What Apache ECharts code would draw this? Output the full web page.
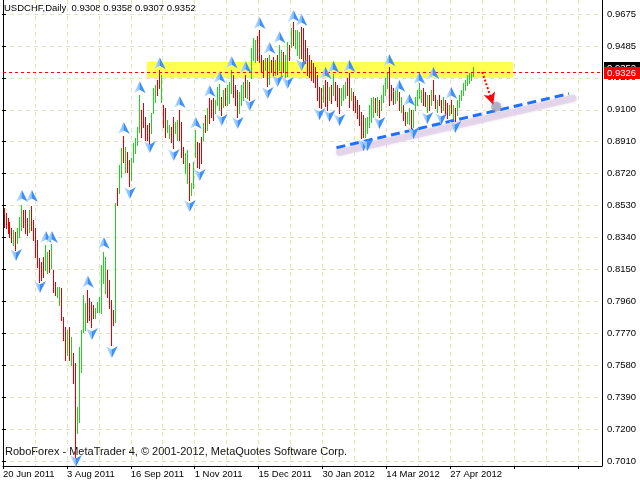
<!DOCTYPE html>
<html><head><meta charset="utf-8">
<script src="https://cdn.jsdelivr.net/npm/echarts@6/dist/echarts.min.js"></script>
<style>html,body{margin:0;padding:0;background:#fff}#c{width:640px;height:480px}</style>
</head><body><div id="c"></div>
<script>
// ---------------- data ----------------
const dateLabels = ['20 Jun 2011','3 Aug 2011','16 Sep 2011','1 Nov 2011','15 Dec 2011','30 Jan 2012','14 Mar 2012','27 Apr 2012'];
const priceLabels = ['0.7010','0.7200','0.7390','0.7580','0.7770','0.7960','0.8150','0.8340','0.8530','0.8720','0.8910','0.9100','0.9290','0.9485','0.9675'];
const firstTickPrice = 0.7010, lastTickPrice = 0.9675;

const barHigh = [
0.8518,0.8488,0.8459,0.8435,0.8399,0.8387,0.8375,0.8399,0.8465,0.8536,
0.8506,0.8506,0.8459,0.8506,0.8530,0.8447,0.8399,0.8328,0.8220,0.8196,
0.8226,0.8298,0.8256,0.8268,0.8304,0.8149,0.8078,0.8047,0.8047,0.8041,
0.7869,0.7809,0.7791,0.7809,0.7750,0.7654,0.7595,0.7332,0.7690,0.7791,
0.8000,0.7952,0.8030,0.7982,0.7958,0.7940,0.7922,0.7958,0.7988,0.8179,
0.8256,0.8226,0.8149,0.8090,0.7970,0.7910,0.8548,0.8638,0.8775,0.8876,
0.8947,0.8882,0.8852,0.8804,0.8816,0.8906,0.8935,0.9001,0.9192,0.9102,
0.9144,0.9061,0.9013,0.9025,0.9085,0.9234,0.9251,0.9281,0.9341,0.9311,
0.9132,0.9114,0.9043,0.9013,0.9001,0.9061,0.9031,0.9043,0.9102,0.9031,
0.8882,0.8846,0.8864,0.8787,0.8667,0.8792,0.8983,0.8912,0.8906,0.8941,
0.9025,0.9073,0.9114,0.9174,0.9162,0.9174,0.9162,0.9239,0.9257,0.9180,
0.9222,0.9234,0.9251,0.9269,0.9341,0.9311,0.9251,0.9222,0.9210,0.9251,
0.9269,0.9311,0.9281,0.9269,0.9472,0.9532,0.9520,0.9543,0.9579,0.9430,
0.9400,0.9412,0.9412,0.9430,0.9400,0.9418,0.9400,0.9430,0.9490,0.9460,
0.9448,0.9430,0.9508,0.9490,0.9591,0.9627,0.9579,0.9579,0.9567,0.9597,
0.9591,0.9520,0.9472,0.9430,0.9400,0.9382,0.9359,0.9311,0.9239,0.9234,
0.9251,0.9281,0.9269,0.9239,0.9251,0.9317,0.9269,0.9251,0.9234,0.9234,
0.9251,0.9269,0.9293,0.9323,0.9234,0.9210,0.9186,0.9162,0.9132,0.9091,
0.9073,0.9055,0.9061,0.9132,0.9174,0.9180,0.9174,0.9180,0.9162,0.9192,
0.9251,0.9293,0.9329,0.9359,0.9251,0.9234,0.9222,0.9234,0.9210,0.9180,
0.9132,0.9091,0.9091,0.9114,0.9102,0.9102,0.9180,0.9222,0.9263,0.9222,
0.9234,0.9210,0.9192,0.9192,0.9222,0.9281,0.9192,0.9162,0.9192,0.9162,
0.9180,0.9162,0.9144,0.9132,0.9162,0.9132,0.9114,0.9162,0.9192,0.9222,
0.9263,0.9281,0.9311,0.9323,0.9329,0.9358];

const barLow = [
0.8405,0.8399,0.8369,0.8345,0.8316,0.8298,0.8268,0.8310,0.8345,0.8387,
0.8405,0.8369,0.8357,0.8375,0.8387,0.8328,0.8226,0.8167,0.8078,0.8090,
0.8107,0.8149,0.8131,0.8137,0.8161,0.8018,0.8000,0.7988,0.7940,0.7851,
0.7732,0.7612,0.7642,0.7612,0.7583,0.7475,0.7028,0.7177,0.7243,0.7541,
0.7779,0.7791,0.7839,0.7851,0.7809,0.7863,0.7863,0.7898,0.7898,0.7893,
0.8071,0.8012,0.7988,0.7922,0.7702,0.7821,0.7839,0.8536,0.8608,0.8703,
0.8792,0.8733,0.8733,0.8649,0.8685,0.8792,0.8846,0.8894,0.8971,0.8941,
0.9001,0.8924,0.8924,0.8894,0.8965,0.9085,0.9150,0.9192,0.9234,0.9150,
0.9001,0.8941,0.8971,0.8935,0.8912,0.8876,0.8965,0.8924,0.8924,0.8822,
0.8787,0.8727,0.8667,0.8566,0.8596,0.8638,0.8822,0.8763,0.8757,0.8787,
0.8924,0.8971,0.8983,0.9025,0.9061,0.9043,0.9085,0.9132,0.9102,0.9073,
0.9120,0.9132,0.9132,0.9144,0.9204,0.9180,0.9132,0.9061,0.9085,0.9132,
0.9162,0.9180,0.9174,0.9162,0.9293,0.9400,0.9388,0.9400,0.9388,0.9329,
0.9299,0.9341,0.9245,0.9257,0.9329,0.9299,0.9311,0.9317,0.9341,0.9311,
0.9329,0.9299,0.9305,0.9400,0.9478,0.9490,0.9472,0.9430,0.9412,0.9412,
0.9371,0.9382,0.9311,0.9299,0.9281,0.9269,0.9239,0.9162,0.9120,0.9114,
0.9150,0.9126,0.9102,0.9162,0.9144,0.9192,0.9162,0.9126,0.9085,0.9132,
0.9162,0.9174,0.9192,0.9120,0.9162,0.9102,0.9091,0.9055,0.9013,0.8935,
0.8941,0.8941,0.8965,0.9001,0.9031,0.9061,0.9091,0.9073,0.9061,0.9102,
0.9150,0.9192,0.9234,0.9132,0.9162,0.9138,0.9144,0.9162,0.9102,0.9091,
0.9043,0.9013,0.9025,0.9019,0.8995,0.9001,0.9102,0.9132,0.9174,0.9150,
0.9132,0.9126,0.9091,0.9102,0.9132,0.9162,0.9114,0.9091,0.9132,0.9091,
0.9102,0.9073,0.9055,0.9073,0.9085,0.9055,0.9037,0.9073,0.9120,0.9162,
0.9192,0.9222,0.9251,0.9263,0.9281,0.9307];

// 1 = bull bar (close above open), 0 = bear bar
const barUp = [
0,0,0,0,0,1,0,1,1,1, 0,0,0,1,0,0,0,0,0,0, 0,1,1,0,1,0,0,1,1,0, 0,0,1,0,1,0,0,1,1,1,
1,1,0,0,0,0,1,1,1,1, 1,1,0,0,0,0,1,0,1,1, 0,1,0,0,1,1,1,1,1,0, 0,0,0,0,1,1,1,0,0,1,
0,0,1,1,0,0,1,1,0,0, 0,1,1,0,1,1,1,0,0,0, 1,0,1,0,0,0,1,1,1,0, 1,0,1,1,1,0,0,0,1,1,
1,0,1,0,1,1,1,0,0,0, 0,1,0,1,0,0,1,0,1,1, 0,1,1,0,1,0,1,1,1,0, 0,0,0,0,0,0,0,0,0,0,
1,0,0,1,0,1,0,0,0,1, 1,1,0,0,1,0,0,0,0,0, 0,1,1,1,1,1,0,1,0,1, 1,1,1,0,0,0,1,1,0,1,
0,0,1,1,0,1,1,1,1,1, 0,0,1,0,1,0,0,1,0,0, 1,0,0,1,0,1,0,1,1,1, 1,1,1,1,1,1];

// Fractal markers (bar index, price where the arrow sits)
const fractalUpIdx   = [9,14,21,24,42,50,60,68,78,88,96,103,108,114,121,128,133,138,145,149,161,165,173,193,198,203,208,215,224];
const fractalUpPrice = [0.8590,0.8590,0.8345,0.8345,0.8078,0.8310,0.8995,0.9239,0.9382,0.9150,0.9025,0.9216,0.9299,0.9388,0.9359,0.9621,0.9472,0.9537,0.9663,0.9639,0.9323,0.9359,0.9365,0.9400,0.9245,0.9162,0.9293,0.9323,0.9204];
const fractalDnIdx   = [6,18,36,44,54,63,73,85,93,98,109,117,123,132,137,142,149,158,163,168,180,182,188,205,212,219,226];
const fractalDnPrice = [0.8238,0.8047,0.7010,0.7767,0.7660,0.8608,0.8882,0.8834,0.8530,0.8715,0.9043,0.9025,0.9132,0.9204,0.9275,0.9263,0.9371,0.9079,0.9067,0.9043,0.8894,0.8894,0.9025,0.8965,0.9055,0.9049,0.9001];

// drawn objects
const bandIdx = [71.5, 255];
const bandPrice = [0.9389, 0.9293];
const hLinePrice = 0.9326;
const bidPrice = 0.9352;
const trendIdx = [166.5, 283];
const trendPrice = [0.8878, 0.9200];
const trendGlowIdx = [168, 285];
const trendGlowPrice = [0.8850, 0.9172];
const arrowIdx = [239.5, 245];
const arrowPrice = [0.9329, 0.9135];
const dotIdx = 246.5, dotPrice = 0.9122;
const titleText = 'USDCHF,Daily  0.9308 0.9358 0.9307 0.9352';
const footerText = 'RoboForex - MetaTrader 4, \u00a9 2001-2012, MetaQuotes Software Corp.';

// ---------------- layout ----------------
const Hh = 480;
const G = {left: 2, right: 38, top: 0, bottom: 14};
const tickTopPx = 14, tickBottomPx = 461;       // rows of the outer price labels
const pxPerPrice = (tickBottomPx - tickTopPx) / (lastTickPrice - firstTickPrice);
const yMax = lastTickPrice + (tickTopPx - G.top) / pxPerPrice;
const yMin = firstTickPrice - ((Hh - G.bottom) - tickBottomPx) / pxPerPrice;
const xMin = -0.5, xMax = 299.5;
const FONT = 'Liberation Sans, Arial, sans-serif';
const gridColor = '#e2e2c4';
const UP_COLOR = '#1ed21e', DOWN_COLOR = '#e40000';

const bars = barHigh.map((h, i) => [i, h, barLow[i], barUp[i]]);
const upArrow = 'path://M6,0 L12,12 L6,8.5 L0,12 Z';
const dnArrow = 'path://M0,0 L6,3.5 L12,0 L6,12 Z';
const arrowFill = {type:'linear', x:0, y:0, x2:1, y2:0, colorStops:[
  {offset:0, color:'#d6ebff'},{offset:0.5, color:'#7dbaff'},{offset:0.5, color:'#3a8cf7'},{offset:1, color:'#4a98ff'}]};

const chart = echarts.init(document.getElementById('c'), null, {renderer:'canvas'});
chart.setOption({
  animation: false,
  backgroundColor: '#ffffff',
  textStyle: {fontFamily: FONT},
  grid: [
    {left: G.left, right: G.right, top: G.top, bottom: G.bottom, show: false},
    {left: G.left, right: G.right, top: tickTopPx, bottom: Hh - tickBottomPx, show: false}
  ],
  xAxis: [
    {gridIndex: 0, type: 'value', min: xMin, max: xMax, interval: 32, position: 'bottom',
     axisLine: {show: true, lineStyle: {color: '#000', width: 1}},
     axisTick: {show: true, length: 3, lineStyle: {color: '#000'}},
     splitLine: {show: false},
     axisLabel: {show: true, showMinLabel: true, showMaxLabel: false, align: 'left', margin: 3,
       fontSize: 9.5, color: '#000', fontFamily: FONT,
       formatter: v => { const k = Math.round((v - xMin) / 32); return (k >= 0 && k < dateLabels.length) ? dateLabels[k] : ''; }}},
    {gridIndex: 0, type: 'value', min: xMin, max: xMax, interval: 16, position: 'bottom',
     axisLine: {show: false}, axisTick: {show: false}, axisLabel: {show: false},
     splitLine: {show: true, lineStyle: {color: gridColor, type: [4, 4], width: 1}}},
    {gridIndex: 1, type: 'value', min: 0, max: 1, show: false}
  ],
  yAxis: [
    {gridIndex: 0, type: 'value', min: yMin, max: yMax, position: 'right',
     axisLine: {show: true, onZero: false, lineStyle: {color: '#000'}},
     axisTick: {show: false}, axisLabel: {show: false}, splitLine: {show: false}},
    {gridIndex: 1, type: 'value', min: 0, max: priceLabels.length - 1, interval: 1, position: 'right',
     axisLine: {show: false},
     axisTick: {show: true, length: 4, lineStyle: {color: '#000'}},
     axisLabel: {show: true, margin: 5, fontSize: 9.5, color: '#000', fontFamily: FONT,
       formatter: v => priceLabels[Math.round(v)] || ''},
     splitLine: {show: true, lineStyle: {color: gridColor, type: [4, 4], width: 1}}},
    {gridIndex: 0, type: 'value', min: yMin, max: yMax, position: 'left',
     axisLine: {show: true, onZero: false, lineStyle: {color: '#000'}},
     axisTick: {show: false}, axisLabel: {show: false}, splitLine: {show: false}}
  ],
  graphic: [
    {type: 'text', left: 4, top: 3, z: 0, style: {text: titleText, fill: '#000', font: '9.5px ' + FONT}},
    {type: 'text', left: 5, top: 446, z: 0, style: {text: footerText, fill: '#111', font: '11px ' + FONT}}
  ],
  series: [
    // yellow zone
    {type: 'line', xAxisIndex: 0, yAxisIndex: 0, data: [], z: 1, silent: true,
     markArea: {silent: true, itemStyle: {color: '#ffff4f'},
       data: [[{coord: [bandIdx[0], bandPrice[0]]}, {coord: [bandIdx[1], bandPrice[1]]}]]}},
    // horizontal level
    {type: 'line', xAxisIndex: 0, yAxisIndex: 0, z: 6, silent: true, symbol: 'none',
     data: [[xMin, hLinePrice], [xMax, hLinePrice]],
     lineStyle: {width: 1, color: '#ff0000', type: [3, 3]}},
    // price tags on the right scale (bid first, line level on top)
    {type: 'custom', xAxisIndex: 0, yAxisIndex: 0, z: 9, silent: true, clip: false,
     data: [[bidPrice, 0], [hLinePrice, 1]],
     renderItem: (params, api) => {
       const price = api.value(0);
       const y = Math.round(api.coord([xMax, price])[1]);
       const x = params.coordSys.x + params.coordSys.width + 2;
       const col = api.value(1) ? '#ff0000' : '#000000';
       return {type: 'group', children: [
         {type: 'rect', shape: {x: x, y: y - 6, width: 40, height: 12}, style: {fill: col}},
         {type: 'text', x: x + 3, y: y, style: {text: price.toFixed(4), fill: '#fff', font: '9.5px ' + FONT, verticalAlign: 'middle', align: 'left'}}
       ]};
     }},
    // trend line glow
    {type: 'line', xAxisIndex: 0, yAxisIndex: 0, z: 3, silent: true, symbol: 'none',
     data: [[trendGlowIdx[0], trendGlowPrice[0]], [trendGlowIdx[1], trendGlowPrice[1]]],
     lineStyle: {color: 'rgba(226,208,232,0.75)', width: 7, cap: 'round', shadowBlur: 3, shadowColor: 'rgba(220,200,228,0.8)'}},
    // trend line
    {type: 'line', xAxisIndex: 0, yAxisIndex: 0, z: 4, silent: true, symbol: 'none',
     data: [[trendIdx[0], trendPrice[0]], [trendIdx[1], trendPrice[1]]],
     lineStyle: {color: '#2070ff', width: 3, type: [9, 5]}},
    // OHLC bars: 1px high-low lines
    {type: 'custom', xAxisIndex: 0, yAxisIndex: 0, z: 5, silent: true, data: bars,
     encode: {x: 0, y: [1, 2]},
     renderItem: (params, api) => {
       const hi = api.coord([api.value(0), api.value(1)]);
       const lo = api.coord([api.value(0), api.value(2)]);
       const x = Math.floor(hi[0] + 0.01);
       const y1 = Math.round(hi[1]), y2 = Math.round(lo[1]);
       const col = api.value(3) ? UP_COLOR : DOWN_COLOR;
       return {type: 'rect', shape: {x: x, y: y1, width: 1, height: Math.max(1, y2 - y1 + 1)},
               style: {fill: col, stroke: null}};
     }},
    // fractals
    {type: 'scatter', xAxisIndex: 0, yAxisIndex: 0, z: 7, silent: true, symbol: upArrow, symbolSize: [12, 12],
     data: fractalUpIdx.map((x, k) => [x, fractalUpPrice[k]]), itemStyle: {color: arrowFill, opacity: 1}},
    {type: 'scatter', xAxisIndex: 0, yAxisIndex: 0, z: 7, silent: true, symbol: dnArrow, symbolSize: [12, 12],
     data: fractalDnIdx.map((x, k) => [x, fractalDnPrice[k]]), itemStyle: {color: arrowFill, opacity: 1}},
    // gray dot at arrow tip
    {type: 'scatter', xAxisIndex: 0, yAxisIndex: 0, z: 7, silent: true, symbol: 'circle', symbolSize: 10,
     data: [[dotIdx, dotPrice]], itemStyle: {color: 'rgba(150,150,175,0.75)', shadowBlur: 4, shadowColor: 'rgba(150,150,175,0.8)'}},
    // red dotted arrow
    {type: 'line', xAxisIndex: 0, yAxisIndex: 0, data: [], z: 8, silent: true,
     markLine: {silent: true, symbol: ['none', 'arrow'], symbolSize: [9, 12], label: {show: false},
       lineStyle: {color: '#ff0000', width: 2, type: [2, 2]},
       data: [[{coord: [arrowIdx[0], arrowPrice[0]]}, {coord: [arrowIdx[1], arrowPrice[1]]}]]}}
  ]
});
</script></body></html>
